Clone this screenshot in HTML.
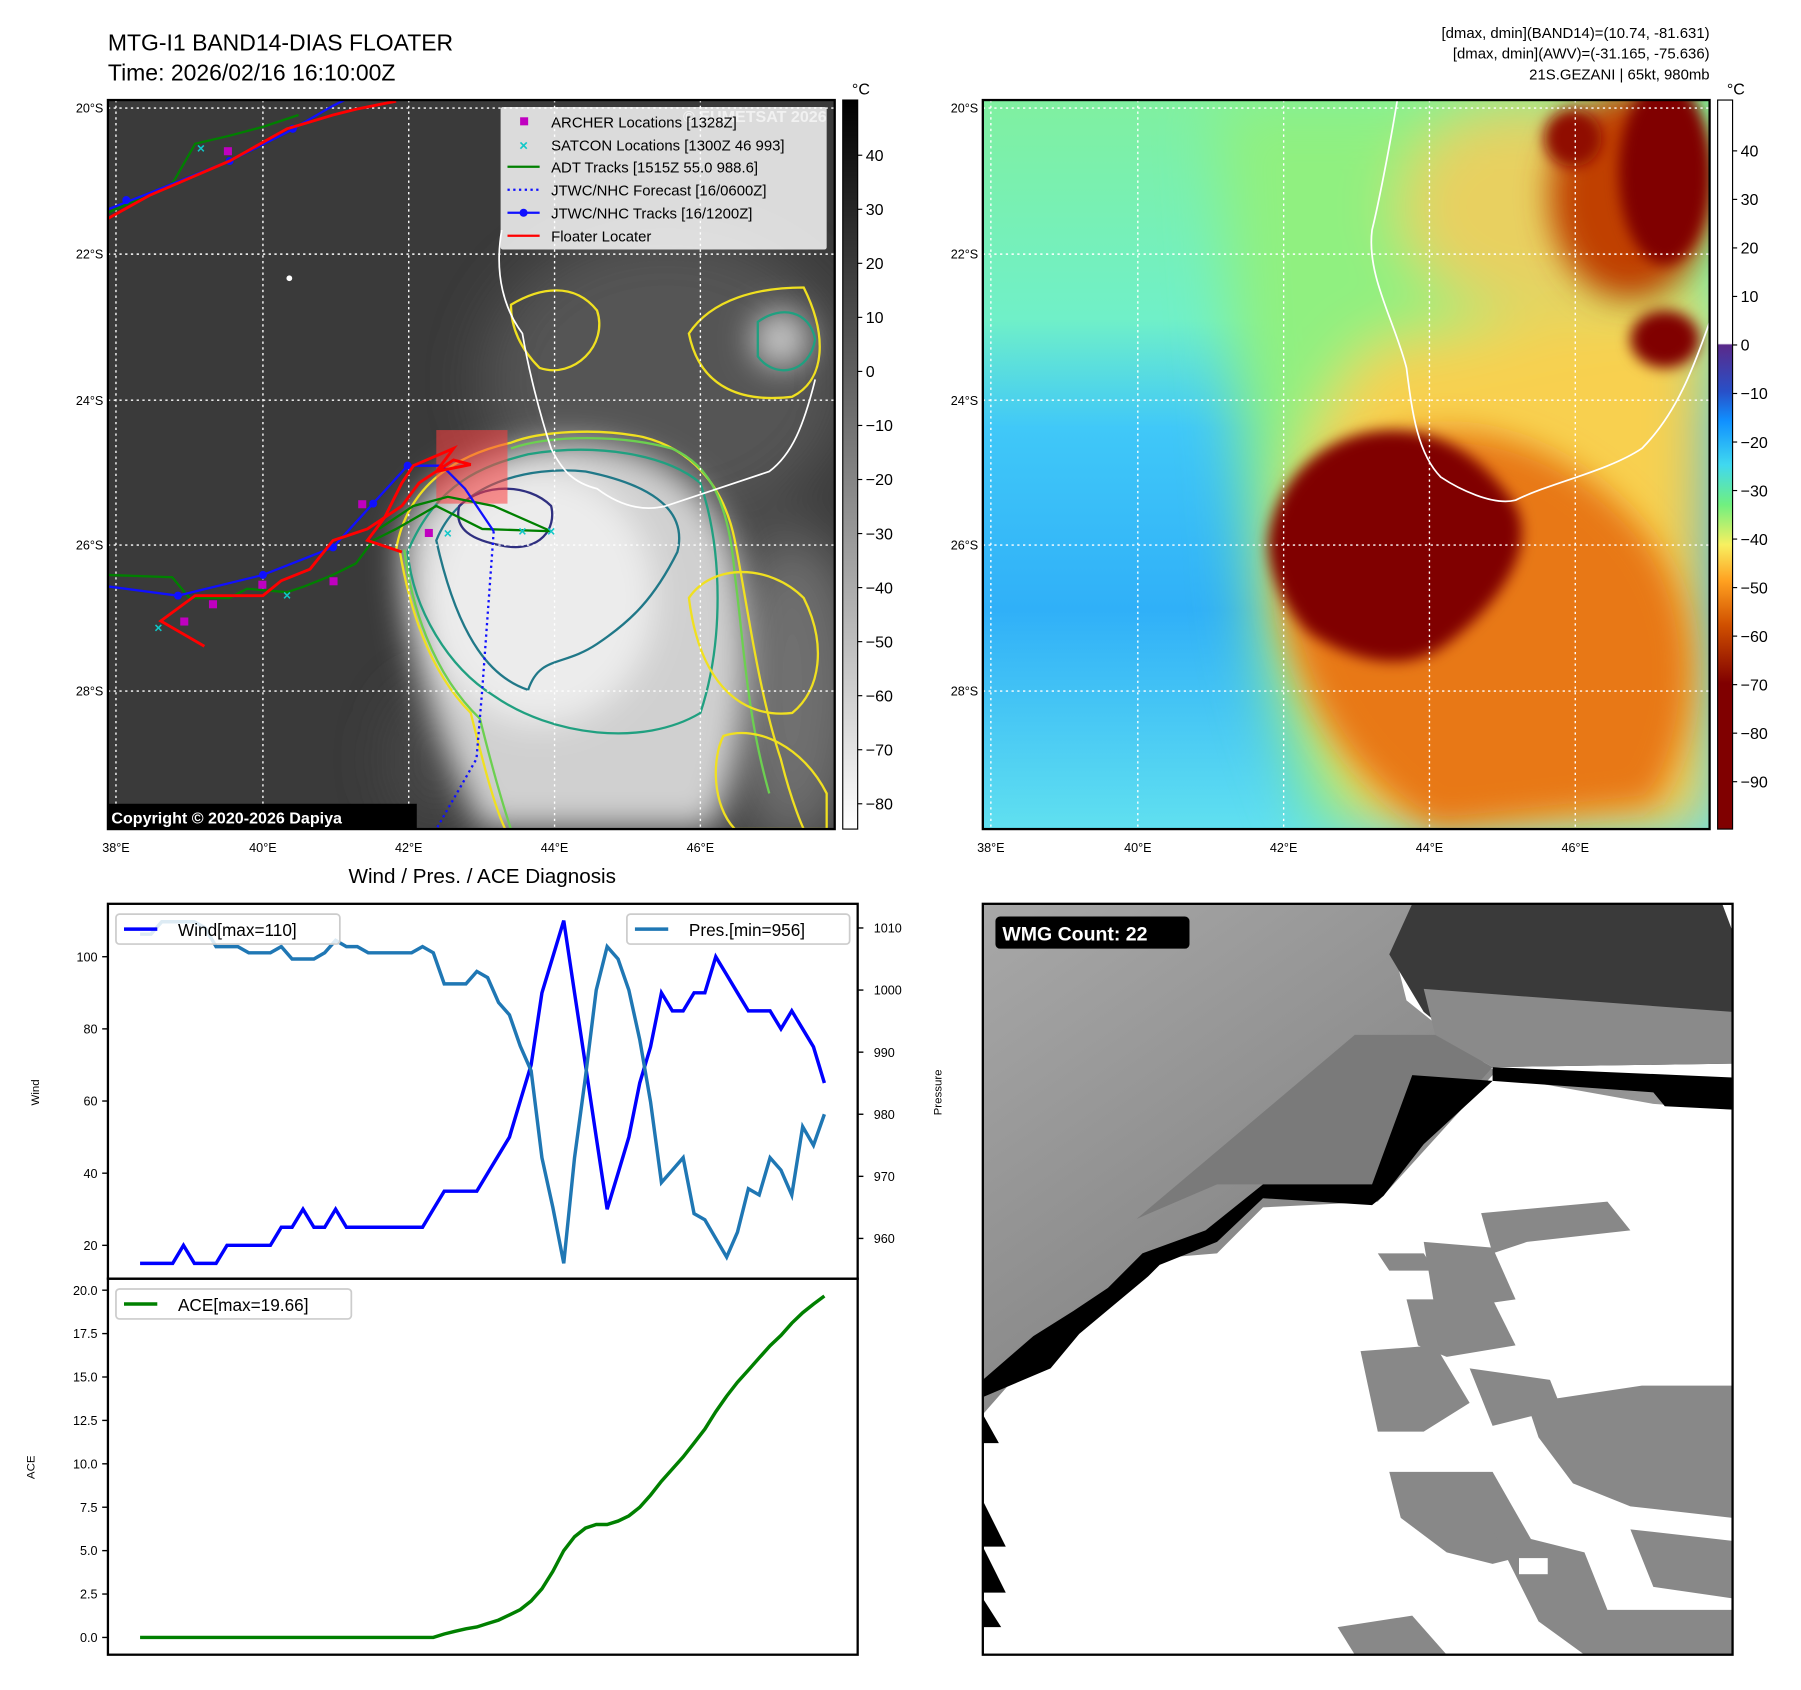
<!DOCTYPE html>
<html><head><meta charset="utf-8">
<style>
html,body{margin:0;padding:0;background:#fff;}
svg{display:block;font-family:"Liberation Sans","DejaVu Sans",sans-serif;}
</style></head>
<body>
<svg id="fig" width="1801" height="1690" viewBox="0 0 1568.6 1469.7" preserveAspectRatio="none" xmlns="http://www.w3.org/2000/svg">
<defs>
  <filter id="blur6" x="-20%" y="-20%" width="140%" height="140%"><feGaussianBlur stdDeviation="6"/></filter>
  <filter id="blur14" x="-30%" y="-30%" width="160%" height="160%"><feGaussianBlur stdDeviation="14"/></filter>
  <filter id="blur25" x="-30%" y="-30%" width="160%" height="160%"><feGaussianBlur stdDeviation="25"/></filter>
  <clipPath id="clip1"><rect x="94" y="87" width="633" height="634"/></clipPath>
  <clipPath id="clip2"><rect x="856" y="87" width="633" height="634"/></clipPath>
  <clipPath id="clip3"><rect x="856" y="786" width="653" height="653"/></clipPath>
  <linearGradient id="cb1" x1="0" y1="0" x2="0" y2="1"><stop offset="0" stop-color="#000"/><stop offset="1" stop-color="#fff"/></linearGradient>
  <linearGradient id="cb2" x1="0" y1="0" x2="0" y2="1">
    <stop offset="0" stop-color="#fff"/><stop offset="0.334" stop-color="#fff"/>
    <stop offset="0.336" stop-color="#5a2a8a"/><stop offset="0.40" stop-color="#2850c8"/>
    <stop offset="0.44" stop-color="#1090ff"/><stop offset="0.50" stop-color="#40d8f0"/>
    <stop offset="0.555" stop-color="#70f080"/><stop offset="0.61" stop-color="#f8f060"/>
    <stop offset="0.66" stop-color="#ffa020"/><stop offset="0.72" stop-color="#d05000"/>
    <stop offset="0.80" stop-color="#800000"/><stop offset="1" stop-color="#800000"/>
  </linearGradient>
  <linearGradient id="sea2" x1="0" y1="0" x2="0" y2="1">
    <stop offset="0" stop-color="#80f0a0"/><stop offset="0.3" stop-color="#70f0c8"/>
    <stop offset="0.45" stop-color="#40c8f8"/><stop offset="0.7" stop-color="#30b0f8"/>
    <stop offset="1" stop-color="#60e0f0"/>
  </linearGradient>
  <linearGradient id="wmgg" x1="0" y1="0" x2="1" y2="1">
    <stop offset="0" stop-color="#a8a8a8"/><stop offset="0.5" stop-color="#8a8a8a"/><stop offset="1" stop-color="#b8b8b8"/>
  </linearGradient>
</defs>

<text x="94" y="44" font-size="20">MTG-I1 BAND14-DIAS FLOATER</text>
<text x="94" y="70" font-size="20">Time: 2026/02/16 16:10:00Z</text>
<g font-size="13" text-anchor="end">
  <text x="1489" y="33">[dmax, dmin](BAND14)=(10.74, -81.631)</text>
  <text x="1489" y="51">[dmax, dmin](AWV)=(-31.165, -75.636)</text>
  <text x="1489" y="69">21S.GEZANI | 65kt, 980mb</text>
</g>

<!-- MAP 1 -->
<g clip-path="url(#clip1)">
  <rect x="94" y="87" width="633" height="634" fill="#3a3a3a"/>
  <g filter="url(#blur25)">
    <ellipse cx="580" cy="330" rx="160" ry="130" fill="#555"/>
    <ellipse cx="690" cy="600" rx="60" ry="140" fill="#707070"/>
    <ellipse cx="380" cy="660" rx="40" ry="60" fill="#4a4a4a"/>
  </g>
  <g filter="url(#blur14)">
    <path d="M350,470 C360,420 420,390 480,385 C560,380 620,420 640,480 C660,560 650,660 620,721 L420,721 C390,660 345,560 350,470Z" fill="#d0d0d0"/>
    <ellipse cx="470" cy="520" rx="100" ry="110" fill="#ececec"/>
    <ellipse cx="680" cy="295" rx="25" ry="25" fill="#c8c8c8"/>
  </g>
  <path d="M345,478 C355,420 400,395 445,385 C470,375 520,372 560,380 C600,390 630,420 640,470 C650,520 660,600 680,660 C690,700 700,721 700,721" fill="none" stroke="#f0e020" stroke-width="2"/>
  <path d="M348,478 C355,520 370,580 410,620 C420,660 430,700 440,721" fill="none" stroke="#f0e020" stroke-width="2"/>
  <path d="M352,478 C358,525 376,585 418,625 C428,665 438,700 445,721" fill="none" stroke="#6cd050" stroke-width="2"/>
  <path d="M445,390 C480,378 540,378 585,390 C620,405 635,440 640,500 C648,560 650,620 670,690" fill="none" stroke="#6cd050" stroke-width="2"/>
  <path d="M355,480 C360,530 390,580 430,605 C480,640 560,650 610,620 C630,560 630,480 610,420 C580,395 520,385 460,395 C420,405 380,420 355,480Z" fill="none" stroke="#20a080" stroke-width="2"/>
  <path d="M380,470 C400,420 460,405 510,410 C560,420 600,440 590,480 C570,520 550,540 520,560 C490,580 470,570 460,600 C430,590 400,560 380,470Z" fill="none" stroke="#207888" stroke-width="2"/>
  <path d="M445,265 C470,250 500,245 520,270 C530,300 500,330 470,320 C450,300 445,280 445,265Z" fill="none" stroke="#f0e020" stroke-width="2"/>
  <path d="M600,290 C620,260 660,250 700,250 C720,290 720,330 690,345 C650,350 610,340 600,290Z" fill="none" stroke="#f0e020" stroke-width="2"/>
  <path d="M660,280 C680,265 705,270 710,295 C705,325 675,330 660,310Z" fill="none" stroke="#20a080" stroke-width="2"/>
  <path d="M600,520 C620,490 670,490 700,520 C720,560 715,600 690,620 C650,625 610,600 600,520Z" fill="none" stroke="#f0e020" stroke-width="2"/>
  <path d="M630,640 C660,630 700,650 720,690 L720,721 L640,721 C620,700 620,660 630,640Z" fill="none" stroke="#f0e020" stroke-width="2"/>
  <path d="M400,440 C420,420 460,420 480,440 C485,460 470,480 440,475 C410,470 395,460 400,440Z" fill="none" stroke="#303080" stroke-width="2"/>
  <path d="M437,200 C430,240 440,270 455,290 C460,320 470,360 480,390 C490,410 500,420 520,425 C540,440 560,445 580,440 C610,430 640,420 670,410 C690,395 700,370 710,330" fill="none" stroke="#fff" stroke-width="1.5"/>
  <g stroke="#fff" stroke-width="1.2" stroke-dasharray="2,3">
    <line x1="101" y1="87" x2="101" y2="721"/><line x1="229" y1="87" x2="229" y2="721"/><line x1="356" y1="87" x2="356" y2="721"/><line x1="483" y1="87" x2="483" y2="721"/><line x1="610" y1="87" x2="610" y2="721"/>
    <line x1="94" y1="94" x2="727" y2="94"/><line x1="94" y1="221" x2="727" y2="221"/><line x1="94" y1="348" x2="727" y2="348"/><line x1="94" y1="474" x2="727" y2="474"/><line x1="94" y1="601" x2="727" y2="601"/>
  </g>
  <rect x="380" y="374" width="62" height="64" fill="#ff4040" fill-opacity="0.55"/>
  <polyline points="94,500 150,502 165,520 200,520 215,512 250,515 265,510 290,500 310,490 325,470 345,460 380,440 420,460 480,462 430,440 390,432 360,440 330,460" fill="none" stroke="#008000" stroke-width="2"/>
  <polyline points="94,185 150,160 170,125 200,118 230,110 260,100" fill="none" stroke="#008000" stroke-width="2"/>
  <polyline points="94,510 155,518 229,500 290,476 355,405 385,405 405,425 430,462" fill="none" stroke="#1010ff" stroke-width="2"/>
  <polyline points="94,182 130,168 200,140 250,115 290,92 300,87" fill="none" stroke="#1010ff" stroke-width="2"/>
  <g fill="#1010ff"><circle cx="155" cy="518" r="3.5"/><circle cx="229" cy="500" r="3.5"/><circle cx="290" cy="476" r="3.5"/><circle cx="325" cy="438" r="3.5"/><circle cx="355" cy="405" r="3.5"/><circle cx="110" cy="174" r="3.5"/><circle cx="200" cy="140" r="3.5"/><circle cx="255" cy="112" r="3.5"/></g>
  <polyline points="430,462 420,600 415,660 380,721" fill="none" stroke="#1010ff" stroke-width="2" stroke-dasharray="2,3"/>
  <polyline points="94,190 130,170 200,140 250,112 290,100 310,95 345,88" fill="none" stroke="#ff0000" stroke-width="2.5"/>
  <polyline points="178,562 140,540 170,518 229,518 245,505 270,495 290,470 320,460 350,440 365,420 395,400 410,404 380,410 395,390 360,405 350,420 335,450 320,470 350,480" fill="none" stroke="#ff0000" stroke-width="2.5"/>
  <g fill="#c000c0">
    <rect x="312" y="435" width="7" height="7"/><rect x="370" y="460" width="7" height="7"/><rect x="287" y="502" width="7" height="7"/><rect x="182" y="522" width="7" height="7"/><rect x="157" y="537" width="7" height="7"/><rect x="225" y="505" width="7" height="7"/><rect x="195" y="128" width="7" height="7"/>
  </g>
  <g fill="#10c8c8" font-size="12" font-weight="bold" text-anchor="middle">
    <text x="138" y="550">×</text><text x="175" y="133">×</text><text x="390" y="468">×</text><text x="455" y="466">×</text><text x="480" y="466">×</text><text x="250" y="522">×</text>
  </g>
  <circle cx="252" cy="242" r="2.5" fill="#fff"/>
</g>
<rect x="94" y="87" width="633" height="634" fill="none" stroke="#000" stroke-width="2"/>
<text x="720" y="106" font-size="14" font-weight="bold" fill="#fff" fill-opacity="0.6" text-anchor="end">© EUMETSAT 2026</text>

<g font-size="13">
  <rect x="436" y="93" width="284" height="124" fill="#fff" fill-opacity="0.82" rx="2"/>
  <rect x="453" y="102" width="7" height="7" fill="#c000c0"/><text x="480" y="111">ARCHER Locations [1328Z]</text>
  <text x="456" y="131" fill="#10c8c8" text-anchor="middle" font-weight="bold">×</text><text x="480" y="131">SATCON Locations [1300Z 46 993]</text>
  <line x1="442" y1="145" x2="470" y2="145" stroke="#008000" stroke-width="2"/><text x="480" y="150">ADT Tracks [1515Z 55.0 988.6]</text>
  <line x1="442" y1="165" x2="470" y2="165" stroke="#1010ff" stroke-width="2" stroke-dasharray="2,3"/><text x="480" y="170">JTWC/NHC Forecast [16/0600Z]</text>
  <line x1="442" y1="185" x2="470" y2="185" stroke="#1010ff" stroke-width="2"/><circle cx="456" cy="185" r="3.5" fill="#1010ff"/><text x="480" y="190">JTWC/NHC Tracks [16/1200Z]</text>
  <line x1="442" y1="205" x2="470" y2="205" stroke="#ff0000" stroke-width="2"/><text x="480" y="210">Floater Locater</text>
</g>
<g>
  <rect x="94" y="699" width="269" height="22" fill="#000"/>
  <text x="97" y="716" font-size="14" font-weight="bold" fill="#fff">Copyright © 2020-2026 Dapiya</text>
</g>

<g font-size="11">
  <g text-anchor="end">
    <text x="90" y="98">20°S</text><text x="90" y="225">22°S</text><text x="90" y="352">24°S</text><text x="90" y="478">26°S</text><text x="90" y="605">28°S</text>
    <text x="852" y="98">20°S</text><text x="852" y="225">22°S</text><text x="852" y="352">24°S</text><text x="852" y="478">26°S</text><text x="852" y="605">28°S</text>
  </g>
  <g text-anchor="middle">
    <text x="101" y="741">38°E</text><text x="229" y="741">40°E</text><text x="356" y="741">42°E</text><text x="483" y="741">44°E</text><text x="610" y="741">46°E</text>
    <text x="863" y="741">38°E</text><text x="991" y="741">40°E</text><text x="1118" y="741">42°E</text><text x="1245" y="741">44°E</text><text x="1372" y="741">46°E</text>
  </g>
</g>

<g font-size="14">
  <rect x="734" y="87" width="13" height="634" fill="url(#cb1)" stroke="#000" stroke-width="1"/>
  <text x="742" y="82" font-size="14">°C</text>
  <g id="cb1ticks"></g>
</g>
<!-- MAP 2 -->
<g clip-path="url(#clip2)">
  <rect x="856" y="87" width="633" height="634" fill="url(#sea2)"/>
  <g filter="url(#blur25)">
    <path d="M1060,87 L1489,87 L1489,721 L1150,721 C1120,650 1090,560 1090,480 C1080,380 1070,250 1060,87Z" fill="#90f080"/>
    <path d="M1200,300 L1489,250 L1489,721 L1200,721 C1150,640 1120,560 1120,480 C1130,400 1160,330 1200,300Z" fill="#f8d050"/>
    <ellipse cx="1330" cy="180" rx="110" ry="90" fill="#e8d060"/>
  </g>
  <g filter="url(#blur14)">
    <path d="M1170,400 C1260,350 1360,380 1430,460 C1480,520 1489,620 1440,700 L1250,721 C1180,680 1140,620 1120,540 C1110,470 1130,420 1170,400Z" fill="#e87818"/>
    <ellipse cx="1420" cy="170" rx="70" ry="90" fill="#c04000"/>
  </g>
  <g filter="url(#blur6)">
    <path d="M1105,470 C1110,420 1150,380 1200,375 C1250,370 1290,395 1320,440 C1340,480 1300,530 1260,560 C1220,590 1170,570 1140,550 C1120,530 1105,500 1105,470Z" fill="#800000"/>
    <ellipse cx="1450" cy="150" rx="40" ry="80" fill="#800000"/>
    <ellipse cx="1450" cy="295" rx="30" ry="25" fill="#800000"/>
    <ellipse cx="1370" cy="120" rx="25" ry="25" fill="#900800"/>
  </g>
  <path d="M1217,87 C1210,130 1200,180 1195,200 C1190,240 1215,280 1225,320 C1230,360 1235,395 1255,415 C1270,425 1300,440 1320,435 C1350,420 1400,410 1430,390 C1460,360 1475,320 1489,280" fill="none" stroke="#fff" stroke-width="1.5"/>
  <g stroke="#fff" stroke-width="1.2" stroke-dasharray="2,3">
    <line x1="863" y1="87" x2="863" y2="721"/><line x1="991" y1="87" x2="991" y2="721"/><line x1="1118" y1="87" x2="1118" y2="721"/><line x1="1245" y1="87" x2="1245" y2="721"/><line x1="1372" y1="87" x2="1372" y2="721"/>
    <line x1="856" y1="94" x2="1489" y2="94"/><line x1="856" y1="221" x2="1489" y2="221"/><line x1="856" y1="348" x2="1489" y2="348"/><line x1="856" y1="474" x2="1489" y2="474"/><line x1="856" y1="601" x2="1489" y2="601"/>
  </g>
</g>
<rect x="856" y="87" width="633" height="634" fill="none" stroke="#000" stroke-width="2"/>
<g font-size="14">
  <rect x="1496" y="87" width="13" height="634" fill="url(#cb2)" stroke="#000" stroke-width="1"/>
  <text x="1504" y="82" font-size="14">°C</text>
  <g id="cb2ticks"></g>
</g>

<text x="420" y="768" font-size="18" text-anchor="middle">Wind / Pres. / ACE Diagnosis</text>
<g id="diag"></g>

<g clip-path="url(#clip3)">
  <rect x="856" y="786" width="653" height="653" fill="#fff"/>
  <polygon points="856,786 1240,786 1215,830 1225,870 1300,930 1509,940 1509,965 1440,960 1300,935 1200,1045 1100,1050 1060,1090 1000,1095 960,1130 930,1160 900,1180 856,1230" fill="url(#wmgg)"/>
  <polygon points="1230,786 1500,786 1509,810 1509,925 1300,928 1240,880 1210,830" fill="#3a3a3a"/>
  <polygon points="1240,860 1509,880 1509,925 1300,928 1250,900" fill="#8a8a8a"/>
  <polygon points="1180,900 1250,900 1300,928 1200,1040 1110,1030 1060,1030 990,1060" fill="#7a7a7a"/>
  <polygon points="1300,928 1509,937 1509,965 1450,962 1440,950 1300,940" fill="#000"/>
  <polygon points="1230,935 1300,940 1240,995 1205,1040 1195,1048 1100,1042 1060,1080 1010,1100 1000,1110 970,1135 940,1160 915,1190 856,1215 856,1200 900,1162 935,1140 965,1120 995,1090 1050,1070 1100,1030 1195,1030" fill="#000"/>
  <polygon points="856,1305 876,1345 856,1345" fill="#000"/><polygon points="856,1345 876,1385 856,1385" fill="#000"/><polygon points="856,1390 872,1415 856,1415" fill="#000"/><polygon points="856,1230 870,1255 856,1255" fill="#000"/>
  <g fill="#888">
    <polygon points="1290,1055 1400,1045 1420,1070 1330,1080 1300,1090"/>
    <polygon points="1240,1080 1300,1085 1320,1130 1250,1140"/>
    <polygon points="1200,1090 1240,1090 1250,1105 1210,1105"/>
    <polygon points="1225,1130 1300,1130 1320,1170 1260,1180 1235,1170"/>
    <polygon points="1185,1175 1250,1170 1280,1220 1240,1245 1200,1245"/>
    <polygon points="1280,1190 1350,1200 1360,1225 1300,1240"/>
    <polygon points="1330,1220 1430,1205 1509,1205 1509,1320 1420,1310 1370,1290 1340,1250"/>
    <polygon points="1210,1280 1300,1280 1340,1350 1300,1360 1260,1350 1220,1320"/>
    <polygon points="1300,1330 1380,1350 1400,1400 1509,1400 1509,1439 1380,1439 1340,1410"/>
    <polygon points="1165,1415 1230,1405 1260,1439 1180,1439"/>
    <polygon points="1420,1330 1509,1340 1509,1390 1440,1380"/>
  </g>
  <rect x="1323" y="1355" width="25" height="14" fill="#fff"/>
  <g>
    <rect x="867" y="797" width="169" height="28" rx="4" fill="#000"/>
    <text x="873" y="818" font-size="17" font-weight="bold" fill="#fff">WMG Count: 22</text>
  </g>
</g>
<rect x="856" y="786" width="653" height="653" fill="none" stroke="#000" stroke-width="2"/>
</svg>

<script>
const windValues = [15,15,15,15,20,15,15,15,20,20,20,20,20,25,25,30,25,25,30,25,25,25,25,25,25,25,25,30,35,35,35,35,40,45,50,60,70,90,100,110,90,70,50,30,40,50,65,75,90,85,85,90,90,100,95,90,85,85,85,80,85,80,75,65];
const presValues = [1009,1009,1011,1011,1011,1011,1010,1007,1007,1007,1006,1006,1006,1007,1005,1005,1005,1006,1008,1007,1007,1006,1006,1006,1006,1006,1007,1006,1001,1001,1001,1003,1002,998,996,991,987,973,965,956,973,986,1000,1007,1005,1000,992,982,969,971,973,964,963,960,957,961,968,967,973,971,967,978,975,980];
const aceValues = [0,0,0,0,0,0,0,0,0,0,0,0,0,0,0,0,0,0,0,0,0,0,0,0,0,0,0,0,0.2,0.35,0.5,0.6,0.8,1.0,1.3,1.6,2.1,2.8,3.8,5.0,5.8,6.3,6.5,6.5,6.7,7.0,7.5,8.2,9.0,9.7,10.4,11.2,12.0,13.0,13.9,14.7,15.4,16.1,16.8,17.4,18.1,18.7,19.2,19.66];
const windTicks = [20,40,60,80,100];
const presTicks = [960,970,980,990,1000,1010];
const aceTicks = [0,2.5,5,7.5,10,12.5,15,17.5,20];
const cbIrTicks = [40,30,20,10,0,-10,-20,-30,-40,-50,-60,-70,-80];
const cbWvTicks = [40,30,20,10,0,-10,-20,-30,-40,-50,-60,-70,-80,-90];

const NS = 'http://www.w3.org/2000/svg';
function mk(tag, attrs, parent){ const e=document.createElementNS(NS,tag); for(const k in attrs) e.setAttribute(k,attrs[k]); parent.appendChild(e); return e; }

const xL = 94, xR = 747, xFirst = 122, xLast = 718;
const xOf = i => xFirst + i*(xLast-xFirst)/(windValues.length-1);
const yWind = w => 1083 - (w-20)*(1083-832)/80;
const yPres = p => 1077 - (p-960)*(1077-807)/50;
const yAce = a => 1424 - a*(1424-1122)/20;
const g = document.getElementById('diag');

function tickL(parent, y, label, x0){
  const t = mk('line',{x1:x0-5,y1:y,x2:x0,y2:y,stroke:'#000','stroke-width':1.2},parent);
  
  
  const tx = mk('text',{x:x0-9,y:y+4,'font-size':11,'text-anchor':'end'},parent);
  tx.textContent = label;
  
  
}
windTicks.forEach(w=>tickL(g,yWind(w),String(w),xL));
aceTicks.forEach(a=>tickL(g,yAce(a),a.toFixed(1),xL));
presTicks.forEach(p=>{
  const y=yPres(p);
  const t=mk('line',{x1:xR,y1:y,x2:xR+5,y2:y,stroke:'#000','stroke-width':1.2},g);
  
  
  const tx=mk('text',{x:xR+14,y:y+4,'font-size':11},g);
  tx.textContent=String(p);
  
  
});
function ylab(x,y,txt,name){
  const t=mk('text',{x:x,y:y,'font-size':10,'text-anchor':'middle',transform:`rotate(-90 ${x} ${y})`},g);
  t.textContent=txt;
  
  
}
ylab(34,950,'Wind','wind-axis-title');
ylab(820,950,'Pressure','pressure-axis-title');
ylab(30,1276,'ACE','ace-axis-title');

function line(vals, yf, color, name){
  const pts = vals.map((v,i)=>xOf(i).toFixed(1)+','+yf(v).toFixed(1)).join(' ');
  const p = mk('polyline',{points:pts,fill:'none',stroke:color,'stroke-width':3,'stroke-linejoin':'miter'},g);
  
  
}
line(windValues,yWind,'#0000ff','wind-line');
line(presValues,yPres,'#1f77b4','pressure-line');
line(aceValues,yAce,'#008000','ace-line');

const f1=mk('rect',{x:xL,y:786,width:xR-xL,height:326,fill:'none',stroke:'#000','stroke-width':2},g);


const f2=mk('rect',{x:xL,y:1112,width:xR-xL,height:327,fill:'none',stroke:'#000','stroke-width':2},g);



function legend(x,y,w,color,label,name){
  const lg=mk('g',{},g);
  
  
  mk('rect',{x:x,y:y,width:w,height:26,rx:3,fill:'#fff','fill-opacity':0.85,stroke:'#ccc','stroke-width':1.5},lg);
  mk('line',{x1:x+7,y1:y+13,x2:x+36,y2:y+13,stroke:color,'stroke-width':3},lg);
  const t=mk('text',{x:x+54,y:y+19,'font-size':15},lg);
  t.textContent=label;
}
legend(101,795,195,'#0000ff','Wind[max=110]','wind-legend');
legend(546,795,194,'#1f77b4','Pres.[min=956]','pressure-legend');
legend(101,1121,205,'#008000','ACE[max=19.66]','ace-legend');

function cbTicks(id,vals,x,yf){
  const p=document.getElementById(id);
  vals.forEach(v=>{
    const y=yf(v);
    const l=mk('line',{x1:x,y1:y,x2:x+4,y2:y,stroke:'#000','stroke-width':1},p);
    
    
    const t=mk('text',{x:x+7,y:y+5,'font-size':14},p);
    t.textContent = v<0 ? '\u2212'+Math.abs(v) : String(v);
    
    
  });
}
cbTicks('cb1ticks',cbIrTicks,747,v=>323-v*4.7);
cbTicks('cb2ticks',cbWvTicks,1509,v=>300-v*4.22);
</script>
</body></html>
